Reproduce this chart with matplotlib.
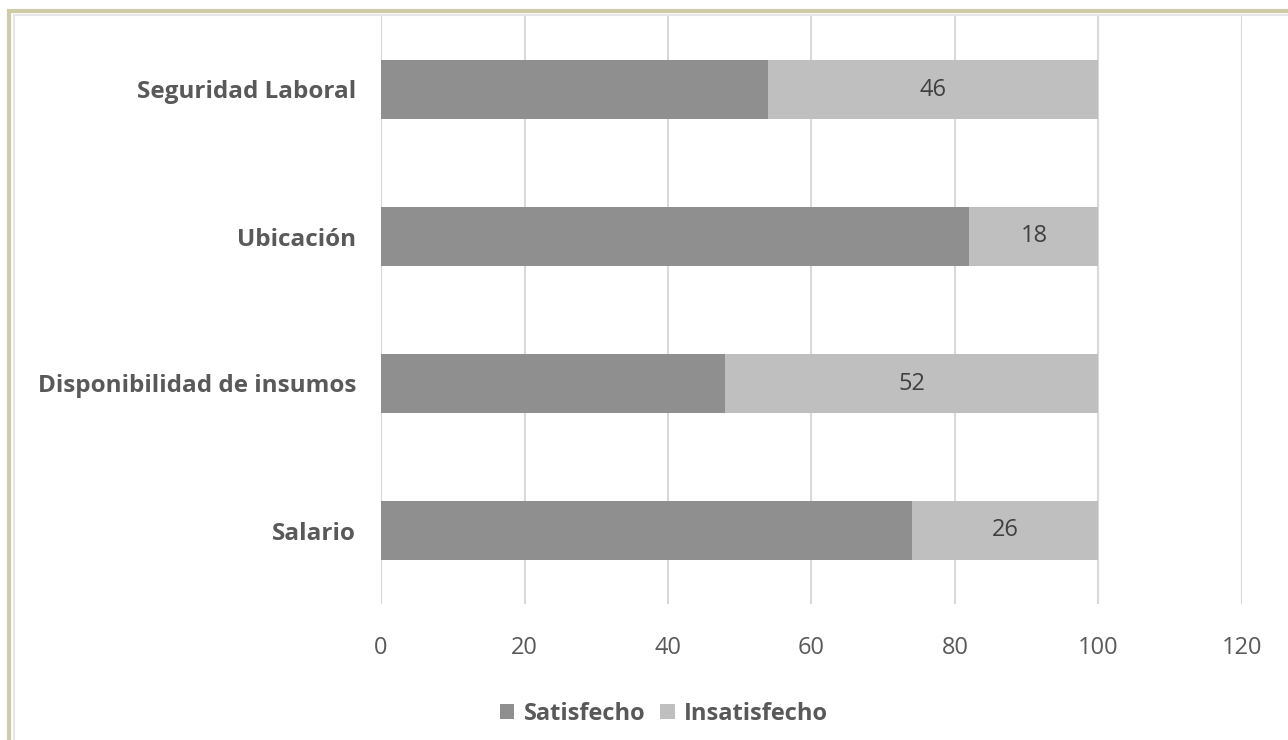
import matplotlib.pyplot as plt
from matplotlib.patches import Rectangle

categories = ["Salario", "Disponibilidad de insumos", "Ubicación", "Seguridad Laboral"]
satisfecho = [74, 48, 82, 54]
insatisfecho = [26, 52, 18, 46]
xticks = [0, 20, 40, 60, 80, 100, 120]

plt.rcParams["font.family"] = ["Open Sans", "DejaVu Sans"]
text_color = "#595959"

fig = plt.figure(figsize=(12.88, 7.4), dpi=100)
ax = fig.add_axes([381 / 1288, 1 - 604 / 740, (1242 - 381) / 1288, (604 - 16) / 740])

y = range(len(categories))
ax.barh(y, satisfecho, height=0.4, color="#8f8f8f", label="Satisfecho", zorder=2)
bars = ax.barh(y, insatisfecho, left=satisfecho, height=0.4, color="#bfbfbf",
               label="Insatisfecho", zorder=2)
ax.bar_label(bars, labels=[str(v) for v in insatisfecho], label_type="center",
             fontsize=17, color="#404040")

ax.set_xlim(0, 120)
ax.set_ylim(-0.5, len(categories) - 0.5)
ax.set_xticks(xticks)
ax.set_xticklabels([str(v) for v in xticks], fontsize=17, color=text_color)
ax.set_yticks(list(y))
ax.set_yticklabels(categories, fontsize=17.5, fontweight="bold", color=text_color)
ax.tick_params(axis="x", length=0, pad=23)
ax.tick_params(axis="y", length=0, pad=18)
ax.grid(axis="x", color="#d9d9d9", linewidth=1.5, zorder=0)
for s in ax.spines.values():
    s.set_visible(False)

leg = fig.legend(loc="center", bbox_to_anchor=(664 / 1288, 1 - 714 / 740), ncol=2,
                 frameon=False, fontsize=17, handlelength=0.6, handleheight=0.6,
                 handletextpad=0.4, columnspacing=0.65)
for t in leg.get_texts():
    t.set_color(text_color)
    t.set_fontweight("bold")

# outer frame
fig.patches.append(Rectangle((9 / 1288, -0.1), 1.2, 1 - 11 / 740 + 0.1, transform=fig.transFigure,
                             fill=False, edgecolor="#cfcba8", linewidth=3))
fig.patches.append(Rectangle((14 / 1288, -0.1), 1.2, 1 - 15 / 740 + 0.1, transform=fig.transFigure,
                             fill=False, edgecolor="#e6e6e6", linewidth=1.5))

fig.savefig("out.png", dpi=100)
